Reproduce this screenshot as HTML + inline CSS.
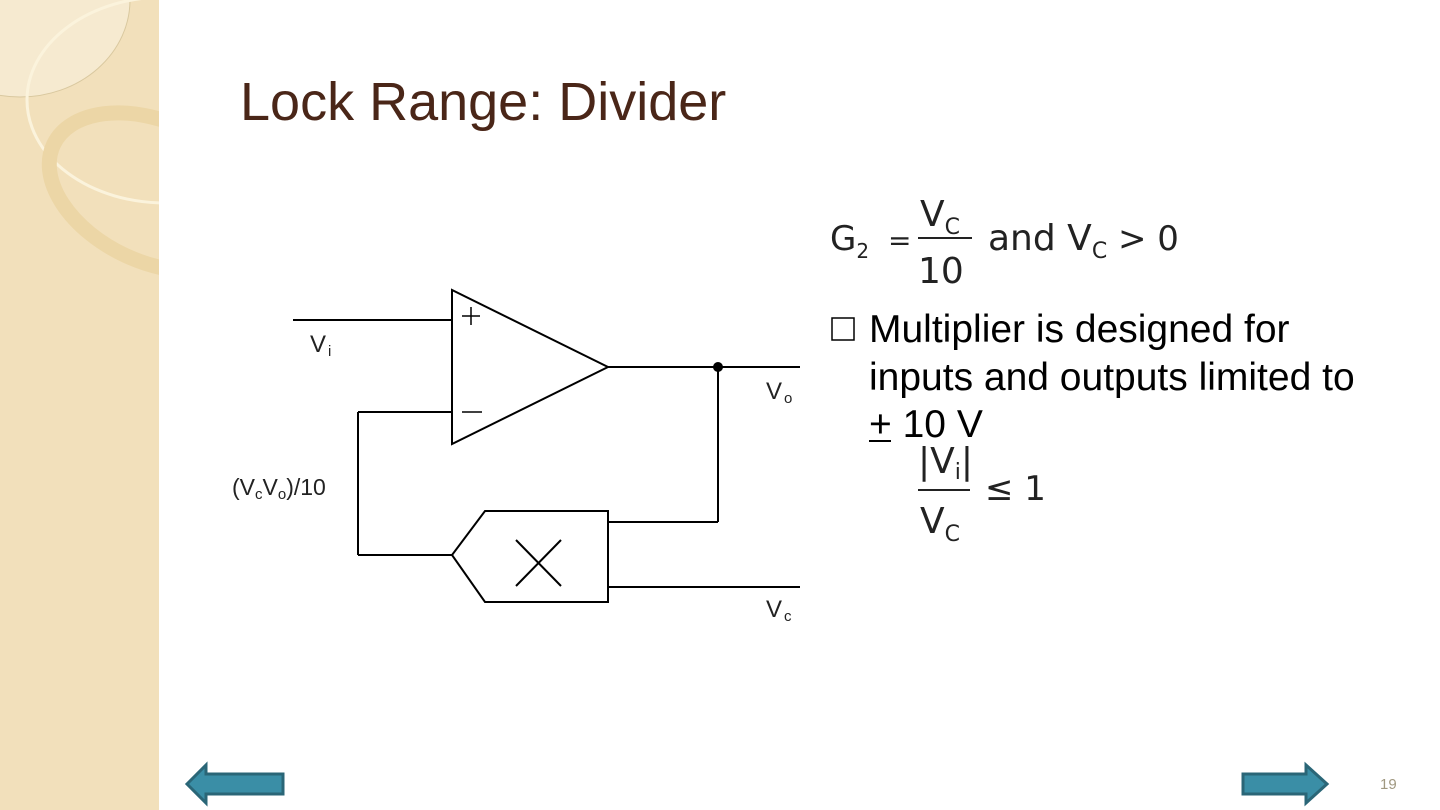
<!DOCTYPE html>
<html><head><meta charset="utf-8"><style>
body{margin:0;width:1440px;height:810px;background:#fff;overflow:hidden;position:relative;font-family:"Liberation Sans",sans-serif}
</style></head><body>
<svg width="1440" height="810" style="position:absolute;left:0;top:0" font-family="Liberation Sans, sans-serif">
<defs><clipPath id="sb"><rect x="0" y="0" width="159" height="810"/></clipPath></defs>
<rect x="0" y="0" width="159" height="810" fill="#f2e0bb"/>
<g clip-path="url(#sb)">
<ellipse cx="20" cy="0" rx="110" ry="97" fill="#f6ead0" stroke="#d9c89f" stroke-width="1"/>
<ellipse cx="165" cy="100" rx="138" ry="103" fill="none" stroke="#fbf3dc" stroke-width="3"/>
<ellipse cx="155" cy="192" rx="112" ry="70" transform="rotate(25 155 192)" fill="none" stroke="#ecd6a6" stroke-width="15"/>
</g>
<text x="240" y="120" font-size="54" fill="#4a2618">Lock Range: Divider</text>
<g stroke="#000" stroke-width="2" fill="none">
<line x1="293" y1="320" x2="452" y2="320"/>
<polygon points="452,290 452,444 608,367"/>
<line x1="608" y1="367" x2="800" y2="367"/>
<line x1="718" y1="367" x2="718" y2="522"/>
<line x1="718" y1="522" x2="608" y2="522"/>
<line x1="452" y1="412" x2="358" y2="412"/>
<line x1="358" y1="412" x2="358" y2="555"/>
<line x1="358" y1="555" x2="452" y2="555"/>
<polygon points="485,511 608,511 608,602 485,602 452,555"/>
<line x1="608" y1="587" x2="800" y2="587"/>
<line x1="516" y1="540" x2="561" y2="586"/>
<line x1="561" y1="540" x2="516" y2="586"/>
<line x1="462" y1="316" x2="480" y2="316" stroke-width="1.5"/>
<line x1="471" y1="307" x2="471" y2="325" stroke-width="1.5"/>
<line x1="462" y1="412" x2="482" y2="412" stroke-width="1.5"/>
</g>
<circle cx="718" cy="367" r="5" fill="#000"/>
<text x="310" y="352" font-size="24" fill="#222" letter-spacing="2">V<tspan font-size="15" dy="4">i</tspan></text>
<text x="766" y="399" font-size="24" fill="#222" letter-spacing="2">V<tspan font-size="15" dy="4">o</tspan></text>
<text x="766" y="617" font-size="24" fill="#222" letter-spacing="2">V<tspan font-size="15" dy="4">c</tspan></text>
<text x="232" y="495" font-size="23" fill="#222">(V<tspan font-size="15" dy="4">c</tspan><tspan dy="-4">V</tspan><tspan font-size="15" dy="4">o</tspan><tspan dy="-4">)/10</tspan></text>
<g font-family="DejaVu Sans, sans-serif" fill="#222">
<text x="830" y="250" font-size="34">G<tspan font-size="20" dy="8">2</tspan></text>
<text x="888" y="250" font-size="28">=</text>
<text x="920" y="226" font-size="36">V<tspan font-size="22" dy="8">C</tspan></text>
<line x1="918" y1="238" x2="972" y2="238" stroke="#222" stroke-width="2"/>
<text x="918" y="283" font-size="36">10</text>
<text x="988" y="250" font-size="36">and V<tspan font-size="22" dy="8">C</tspan><tspan dy="-8" font-size="34">  &gt;  0</tspan></text>
<text x="918" y="473" font-size="36">|V<tspan font-size="22" dy="6">i</tspan><tspan dy="-6">|</tspan></text>
<line x1="918" y1="490" x2="970" y2="490" stroke="#222" stroke-width="2"/>
<text x="920" y="533" font-size="36">V<tspan font-size="22" dy="8">C</tspan></text>
<text x="985" y="500" font-size="34">≤ 1</text>
</g>
<rect x="832" y="318" width="22" height="22" fill="none" stroke="#000" stroke-width="1.5"/>
<text x="869" y="342" font-size="39" fill="#000">Multiplier is designed for</text>
<text x="869" y="390" font-size="39" fill="#000">inputs and outputs limited to</text>
<text x="869" y="437" font-size="39" fill="#000">+ 10 V</text>
<line x1="869" y1="441" x2="891" y2="441" stroke="#000" stroke-width="2"/>
<polygon points="187,784 206,765 206,774 283,774 283,794 206,794 206,803" fill="#3a8ea6" stroke="#2a6677" stroke-width="3"/>
<polygon points="1327,784 1306,765 1306,774 1243,774 1243,794 1306,794 1306,803" fill="#3a8ea6" stroke="#2a6677" stroke-width="3"/>
<text x="1380" y="789" font-size="15" fill="#a09880">19</text>
</svg>
</body></html>
